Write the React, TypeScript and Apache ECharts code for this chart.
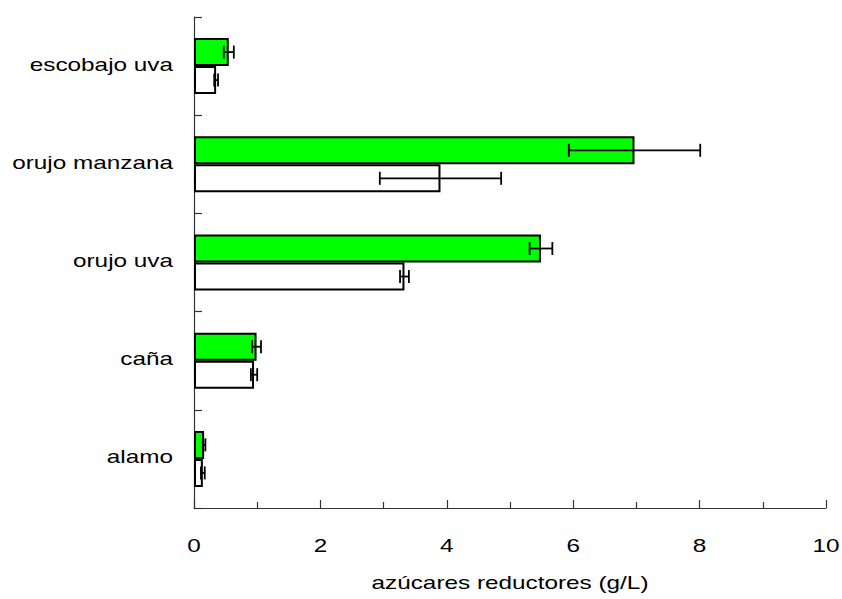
import React, { useEffect, useRef } from "react";
import * as echarts from "echarts";

// Substrates, listed bottom to top along the category axis
const categories = ["alamo", "caña", "orujo uva", "orujo manzana", "escobajo uva"];

// Reducing sugars (g/L): green series and white series, with their errors
const greenValues = [0.16, 0.99, 5.49, 6.97, 0.55];
const greenErrors = [0.02, 0.07, 0.18, 1.04, 0.08];
const whiteValues = [0.14, 0.95, 3.33, 3.9, 0.35];
const whiteErrors = [0.03, 0.05, 0.07, 0.96, 0.03];

const xTickLabels = [0, 2, 4, 6, 8, 10];
const xAxisTitle = "azúcares reductores (g/L)";

const BAR_W = 28;
const GRID = { left: 194, right: 16, top: 17, bottom: 91 };
const FONT = "'Liberation Sans', Arial, sans-serif";
const FONT_SIZE = 19;
const STRETCH = 1.28;

export default function App() {
  const ref = useRef<HTMLDivElement>(null);

  useEffect(() => {
    if (!ref.current) return;
    const chart = echarts.init(ref.current, null, { renderer: "svg" });

    // error-bar data: [categoryIndex, low, high, side] where side -1 = upper bar, +1 = lower bar
    const errData: number[][] = [];
    categories.forEach((_, i) => {
      errData.push([i, greenValues[i] - greenErrors[i], greenValues[i] + greenErrors[i], -1]);
      errData.push([i, whiteValues[i] - whiteErrors[i], whiteValues[i] + whiteErrors[i], 1]);
    });

    const axisLineStyle = { color: "#333", width: 1.2 };

    const option: any = {
      animation: false,
      backgroundColor: "#ffffff",
      grid: { ...GRID, containLabel: false },
      xAxis: {
        type: "value",
        min: 0,
        max: 10,
        interval: 2,
        axisLine: { show: true, lineStyle: axisLineStyle },
        axisTick: { show: true, inside: true, length: 8, lineStyle: axisLineStyle },
        minorTick: { show: true, splitNumber: 2, length: 6, lineStyle: axisLineStyle },
        axisLabel: { show: false },
        splitLine: { show: false },
      },
      yAxis: {
        type: "category",
        data: categories,
        axisLine: { show: true, lineStyle: axisLineStyle },
        axisTick: { show: true, inside: true, length: 8, alignWithLabel: false, lineStyle: axisLineStyle },
        axisLabel: { show: false },
        splitLine: { show: false },
      },
      series: [
        {
          name: "green",
          type: "bar",
          data: greenValues,
          barWidth: BAR_W,
          barGap: "0%",
          itemStyle: { color: "#00ff00", borderColor: "#000", borderWidth: 2 },
          z: 2,
        },
        {
          name: "white",
          type: "bar",
          data: whiteValues,
          barWidth: BAR_W,
          barGap: "0%",
          itemStyle: { color: "#ffffff", borderColor: "#000", borderWidth: 2 },
          z: 2,
        },
        {
          type: "custom",
          data: errData,
          z: 5,
          encode: { x: [1, 2], y: 0 },
          renderItem: (params: any, api: any) => {
            const cat = api.value(0);
            const lo = api.coord([api.value(1), cat]);
            const hi = api.coord([api.value(2), cat]);
            const y = lo[1] + api.value(3) * (BAR_W / 2);
            const cap = 6.5;
            const style = { stroke: "#000", lineWidth: 1.8, fill: "none" };
            return {
              type: "group",
              children: [
                { type: "line", shape: { x1: lo[0], y1: y, x2: hi[0], y2: y }, style },
                { type: "line", shape: { x1: lo[0], y1: y - cap, x2: lo[0], y2: y + cap }, style },
                { type: "line", shape: { x1: hi[0], y1: y - cap, x2: hi[0], y2: y + cap }, style },
              ],
            };
          },
        },
      ],
    };
    chart.setOption(option);

    // Horizontally stretched axis texts, placed from the axes' own scales
    const textStyle = (text: string, align: string) => ({
      text,
      fontSize: FONT_SIZE,
      fontFamily: FONT,
      fill: "#000",
      align,
      verticalAlign: "middle",
    });
    const graphics: any[] = [];
    const x0 = chart.convertToPixel({ xAxisIndex: 0 }, 0) as number;
    const x10 = chart.convertToPixel({ xAxisIndex: 0 }, 10) as number;
    const axisY = chart.getHeight() - GRID.bottom;
    categories.forEach((c) => {
      const y = chart.convertToPixel({ yAxisIndex: 0 }, c) as number;
      graphics.push({
        type: "text",
        x: x0 - 21,
        y: y - 2,
        scaleX: STRETCH,
        style: textStyle(c, "right"),
      });
    });
    xTickLabels.forEach((v) => {
      const x = chart.convertToPixel({ xAxisIndex: 0 }, v) as number;
      graphics.push({
        type: "text",
        x,
        y: axisY + 37.5,
        scaleX: STRETCH,
        style: textStyle(String(v), "center"),
      });
    });
    graphics.push({
      type: "text",
      x: (x0 + x10) / 2,
      y: axisY + 74,
      scaleX: STRETCH,
      style: textStyle(xAxisTitle, "center"),
    });
    chart.setOption({ graphic: graphics });

    return () => chart.dispose();
  }, []);

  return (
    <div
      ref={ref}
      style={{ position: "fixed", left: 0, top: 0, width: 842, height: 599, background: "#fff" }}
    />
  );
}
